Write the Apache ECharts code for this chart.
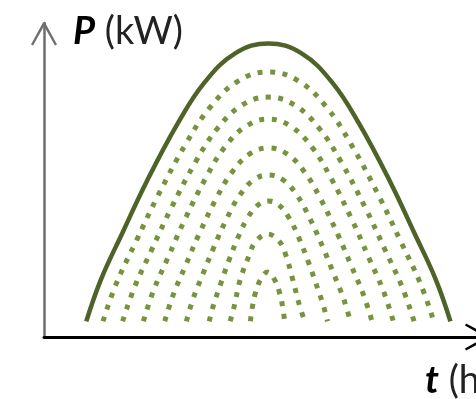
<!DOCTYPE html>
<html>
<head>
<meta charset="utf-8">
<script src="https://cdn.jsdelivr.net/npm/echarts@6/dist/echarts.min.js"></script>
<style>
  html, body { margin: 0; padding: 0; background: #fff; }
  #chart { width: 476px; height: 399px; }
</style>
</head>
<body>
<div id="chart"></div>
<script>
// schematic load profile: t in hours, P in kW
const peakCurve = [
  [2.28, 5], [3.07, 18.3], [4.24, 33.3], [5.52, 49.3], [7.19, 67.8], [8.66, 81.1], [10.33, 90.4],
  [12.1, 93.5], [13.87, 90.4], [15.54, 81.1], [17.01, 67.8], [18.68, 49.3], [19.96, 33.3], [21.13, 18.3], [21.92, 5],
];

const arch1 = [[3.18, 5], [3.89, 16.9], [4.96, 30.4], [6.12, 44.7], [7.64, 61.4], [8.98, 73.3], [10.49, 81.6], [12.1, 84.4],
  [13.71, 81.6], [15.22, 73.3], [16.56, 61.4], [18.08, 44.7], [19.24, 30.4], [20.31, 16.9], [21.02, 5]];
const arch2 = [[4.24, 5], [4.87, 15.7], [5.81, 27.8], [6.83, 40.7], [8.17, 55.7], [9.35, 66.4], [10.69, 73.9], [12.1, 76.4],
  [13.51, 73.9], [14.85, 66.4], [16.03, 55.7], [17.37, 40.7], [18.39, 27.8], [19.33, 15.7], [19.96, 5]];
const arch3 = [[5.36, 5], [5.9, 14.7], [6.71, 25.6], [7.58, 37.2], [8.73, 50.7], [9.74, 60.4], [10.89, 67.1], [12.1, 69.4],
  [13.31, 67.1], [14.46, 60.4], [15.47, 50.7], [16.62, 37.2], [17.49, 25.6], [18.3, 14.7], [18.84, 5]];
const arch4 = [[6.51, 5], [6.96, 13.3], [7.63, 22.7], [8.35, 32.6], [9.3, 44.2], [10.14, 52.5], [11.09, 58.3], [12.1, 60.2],
  [13.11, 58.3], [14.06, 52.5], [14.9, 44.2], [15.85, 32.6], [16.57, 22.7], [17.24, 13.3], [17.69, 5]];
const arch5 = [[7.68, 5], [8.03, 12.0], [8.56, 19.9], [9.14, 28.3], [9.89, 38.1], [10.55, 45.1], [11.3, 50.0], [12.1, 51.6],
  [12.9, 50.0], [13.65, 45.1], [14.31, 38.1], [15.06, 28.3], [15.64, 19.9], [16.17, 12.0], [16.52, 5]];
const arch6 = [[8.91, 5], [9.17, 10.7], [9.55, 17.3], [9.96, 24.2], [10.5, 32.2], [10.98, 37.9], [11.53, 42.0], [12.1, 43.3],
  [12.67, 42.0], [13.22, 37.9], [13.7, 32.2], [14.24, 24.2], [14.65, 17.3], [15.03, 10.7], [15.29, 5]];
const arch7 = [[10.04, 5], [10.25, 9.6], [10.58, 18.2], [11.07, 26.1], [11.4, 30.3], [12.05, 32.8],
  [12.71, 30.3], [13.04, 26.1], [13.42, 18.2], [13.8, 9.6], [14.07, 5]];
const arch8 = [[11.13, 5], [11.24, 9.6], [11.4, 14.0], [11.67, 18.2], [12.05, 20.7],
  [12.44, 18.2], [12.71, 14.0], [12.87, 9.6], [12.98, 5]];

const dottedArches = [arch1, arch2, arch3, arch4, arch5, arch6, arch7, arch8];

const chevron = 'path://M0,22 L12,0 L14,0 L26,22 L24,23 L13,3.5 L2,23 Z';

const chart = echarts.init(document.getElementById('chart'));

const series = [
  {
    type: 'line',
    data: peakCurve,
    smooth: 0.4,
    showSymbol: false,
    lineStyle: { color: '#4f6228', width: 4.5 },
    z: 3,
  },
  ...dottedArches.map((d) => ({
    type: 'line',
    data: d,
    smooth: 0.4,
    showSymbol: false,
    lineStyle: { color: '#77933c', width: 5, type: [5, 7.5], cap: 'butt' },
    z: 2,
  })),
];

chart.setOption({
  animation: false,
  grid: { left: 44, width: 445, top: 23, height: 314, outerBoundsMode: 'none', containLabel: false },
  xAxis: {
    type: 'value',
    min: 0,
    max: 24,
    name: '{i|t} (h)',
    nameLocation: 'end',
    nameGap: -64,
    nameTextStyle: {
      fontFamily: 'Lato',
      fontSize: 38,
      lineHeight: 38,
      color: '#222',
      align: 'left',
      verticalAlign: 'top',
      padding: [25, 0, 0, 0],
      rich: { i: { fontFamily: 'Lato', fontSize: 38, fontStyle: 'italic', fontWeight: 'bold', color: '#000' } },
    },
    axisLine: {
      lineStyle: { color: '#000', width: 3 },
      symbol: ['none', chevron],
      symbolSize: [32, 24],
      symbolOffset: [0, -12],
    },
    axisTick: { show: false },
    axisLabel: { show: false },
    splitLine: { show: false },
  },
  yAxis: {
    type: 'value',
    min: 0,
    max: 100,
    name: '{i|P} (kW)',
    nameLocation: 'end',
    nameGap: -9,
    nameTextStyle: {
      fontFamily: 'Lato',
      fontSize: 38,
      lineHeight: 38,
      color: '#222',
      align: 'left',
      verticalAlign: 'middle',
      padding: [0, 0, 0, 29],
      rich: { i: { fontFamily: 'Lato', fontSize: 38, fontStyle: 'italic', fontWeight: 'bold', color: '#000' } },
    },
    axisLine: {
      lineStyle: { color: '#6e6e6e', width: 2.5 },
      symbol: ['none', chevron],
      symbolSize: [27, 23],
      symbolOffset: [0, -11],
    },
    axisTick: { show: false },
    axisLabel: { show: false },
    splitLine: { show: false },
  },
  series,
});
</script>
</body>
</html>
